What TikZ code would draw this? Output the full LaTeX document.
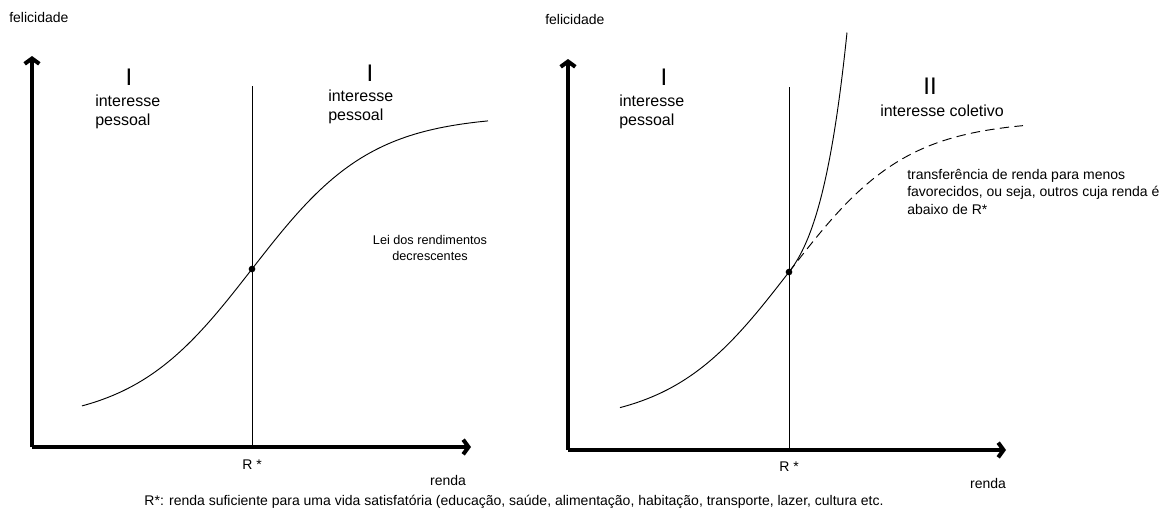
\documentclass[tikz,border=0pt]{standalone}
\usepackage{fontspec}
\setmainfont{Liberation Sans}
\usepackage{tikz}
\usetikzlibrary{positioning,calc,arrows.meta}

\tikzset{
    axis/.style={line width=3pt, -{Straight Barb[length=4pt,width=11pt]}},
    thin/.style={line width=0.7pt},
    dot/.style={circle, fill, inner sep=0pt, minimum size=5pt},
    lbl/.style={font=\fontsize{10.5}{13}\selectfont, inner sep=0pt},
    zone/.style={font=\fontsize{12}{14}\selectfont, align=left, inner sep=0pt},
    roman/.style={font=\fontsize{18}{18}\selectfont, inner sep=0pt}
}

\begin{document}
\begin{tikzpicture}[x=0.75pt, y=-0.75pt]
    \useasboundingbox (0,0) rectangle (1171,515);

    % left panel
    \coordinate (oL) at (32,447);
    \coordinate (ytipL) at (32,56);
    \coordinate (xtipL) at (471,447);
    \coordinate (rtopL) at (252,86);
    \coordinate (rbotL) at (252,447);
    \draw[axis] (oL) -- (ytipL);
    \draw[axis] (oL) -- (xtipL);
    \draw[thin] (rtopL) -- (rbotL);
    \draw[thin] plot[domain=82:488, samples=90] (\x, {423 - 308/(1+exp(-(\x-252)/60))});
    \node[dot] (dotL) at (252,269) {};

    \node[lbl, anchor=west] (felL) at (9,17) {felicidade};
    \node[roman] (iL) at (129,77) {I};
    \node[zone, anchor=north west] (pessL) at (95,95) {interesse\\pessoal};
    \node[roman] (iR) at (370,73) {I};
    \node[zone, anchor=north west] (pessR) at (328,90) {interesse\\pessoal};
    \node[lbl, align=center, font=\fontsize{9.5}{12}\selectfont] (lei) at (430,248) {Lei dos rendimentos\\decrescentes};
    \node[lbl] (rstarL) at (252,465) {R *};
    \node[lbl] (rendaL) at (448,480) {renda};

    % right panel
    \coordinate (oR) at (568,450);
    \coordinate (ytipR) at (568,59);
    \coordinate (xtipR) at (1006,450);
    \coordinate (rtopR) at (789,87);
    \coordinate (rbotR) at (789,450);
    \draw[axis] (oR) -- (ytipR);
    \draw[axis] (oR) -- (xtipR);
    \draw[thin] (rtopR) -- (rbotR);
    \draw[thin] plot[domain=620:789, samples=50] (\x, {424 - 304/(1+exp(-(\x-789)/59))});
    \draw[thin] plot[domain=789:847, samples=50] (\x, {272 - 36*(exp((\x-789)/28.5)-1)});
    \draw[thin, dash pattern=on 7pt off 4pt] plot[domain=789:1023, samples=80] (\x, {424 - 304/(1+exp(-(\x-789)/59))});
    \node[dot] (dotR) at (789,272) {};

    \node[lbl, anchor=west] (felR) at (545,19) {felicidade};
    \node[roman] (iLR) at (664,77) {I};
    \node[zone, anchor=north west] (pessLR) at (619,95) {interesse\\pessoal};
    \node[roman] (ii) at (930,86) {II};
    \node[zone, anchor=west] (colet) at (880,111) {interesse coletivo};
    \node[lbl, align=left, anchor=north west] (transf) at (907,169) {transferência de renda para menos\\favorecidos, ou seja, outros cuja renda é\\abaixo de R*};
    \node[lbl] (rstarR) at (789,467) {R *};
    \node[lbl] (rendaR) at (988,483) {renda};

    \node[lbl] (nota) at (514,502) {R*: renda suficiente para uma vida satisfatória (educação, saúde, alimentação, habitação, transporte, lazer, cultura etc.};
\end{tikzpicture}
\end{document}
